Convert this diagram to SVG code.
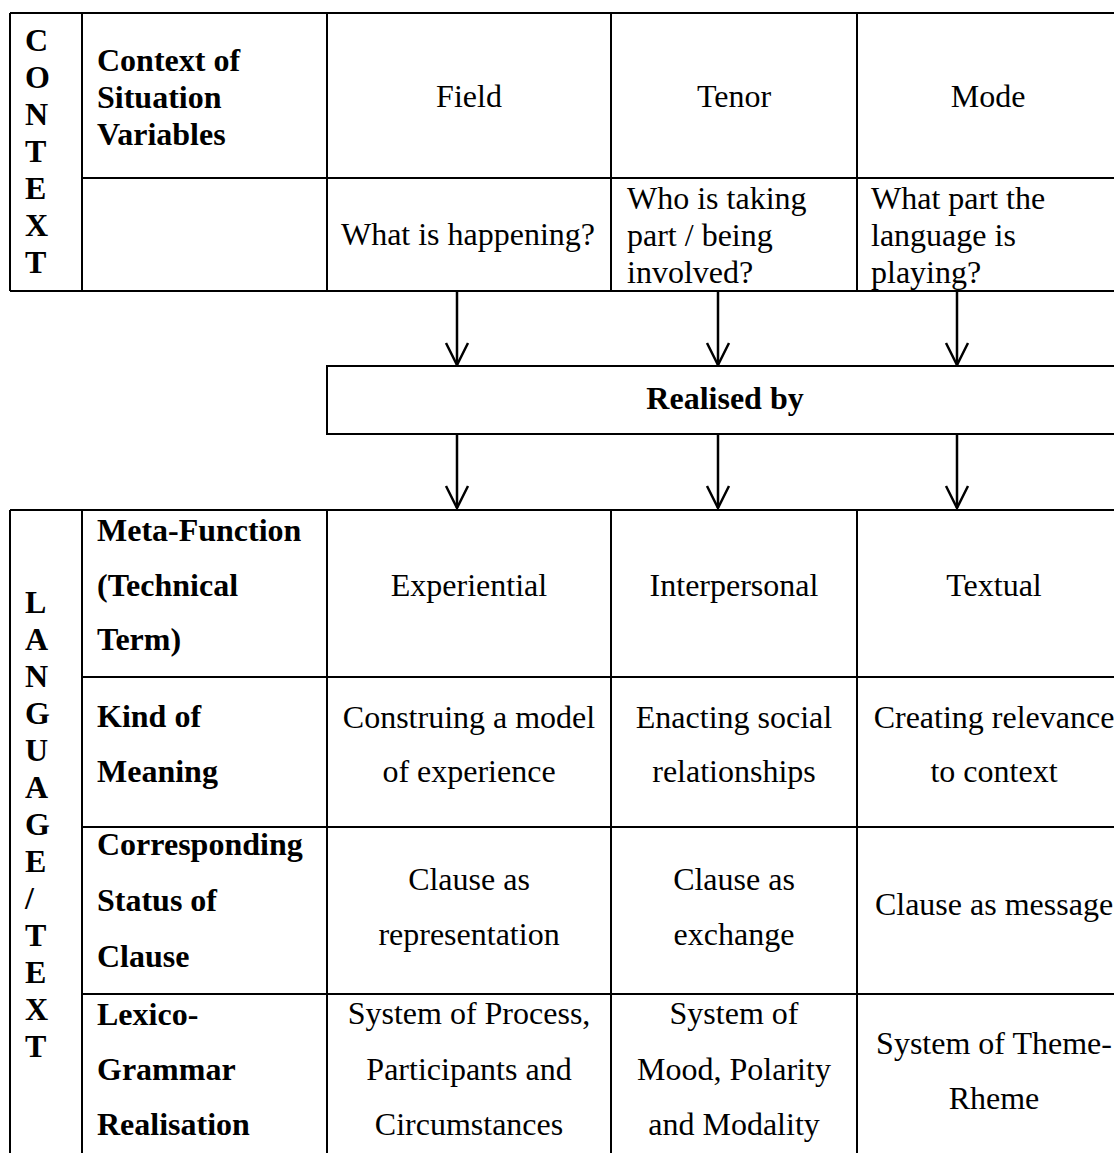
<svg xmlns="http://www.w3.org/2000/svg" width="1114" height="1153" viewBox="0 0 1114 1153">
  <defs>
    <style>
      text { font-family: "Liberation Serif", "Times New Roman", serif; font-size: 32px; fill: #000; }
      .b { font-weight: bold; }
      .c { text-anchor: middle; }
      .ln { stroke: #000; stroke-width: 2; fill: none; }
      .arrow { stroke: #000; stroke-width: 2.5; fill: none; marker-end: url(#vhead); }
    </style>
    <marker id="vhead" viewBox="-24 -13 26 26" refX="0" refY="0" markerWidth="26" markerHeight="26" orient="auto" markerUnits="userSpaceOnUse">
      <path d="M-22,-11 L0,0 L-22,11" fill="none" stroke="#000" stroke-width="2.5"/>
    </marker>
  </defs>
  <rect width="1114" height="1153" fill="#fff"/>

  <!-- Context table -->
  <g id="context-table">
    <path class="ln" d="M10,13 H1114 M10,291 H1114 M82,178 H1114 M10,13 V291 M82,13 V291 M327,13 V291 M611,13 V291 M857,13 V291"/>
    <text class="b" x="25" y="51">C</text>
    <text class="b" x="25" y="88">O</text>
    <text class="b" x="25" y="125">N</text>
    <text class="b" x="25" y="162">T</text>
    <text class="b" x="25" y="199">E</text>
    <text class="b" x="25" y="236">X</text>
    <text class="b" x="25" y="273">T</text>
  </g>
  <g id="csv-label">
    <text class="b" x="97" y="71">Context of</text>
    <text class="b" x="97" y="108">Situation</text>
    <text class="b" x="97" y="145">Variables</text>
  </g>
  <g id="field"><text class="c" x="469" y="107">Field</text></g>
  <g id="tenor"><text class="c" x="734" y="107">Tenor</text></g>
  <g id="mode"><text class="c" x="988" y="107">Mode</text></g>
  <g id="field-q"><text class="c" x="468" y="245">What is happening?</text></g>
  <g id="tenor-q">
    <text x="627" y="209">Who is taking</text>
    <text x="627" y="246">part / being</text>
    <text x="627" y="283">involved?</text>
  </g>
  <g id="mode-q">
    <text x="871" y="209">What part the</text>
    <text x="871" y="246">language is</text>
    <text x="871" y="283">playing?</text>
  </g>

  <!-- Realised by -->
  <g id="realised-by">
    <rect class="ln" x="327" y="366" width="820" height="68"/>
    <text class="b c" x="725" y="409">Realised by</text>
  </g>

  <!-- Connectors -->
  <g id="connectors">
    <line class="arrow" x1="457" y1="291" x2="457" y2="365"/>
    <line class="arrow" x1="718" y1="291" x2="718" y2="365"/>
    <line class="arrow" x1="957" y1="291" x2="957" y2="365"/>
    <line class="arrow" x1="457" y1="434" x2="457" y2="508"/>
    <line class="arrow" x1="718" y1="434" x2="718" y2="508"/>
    <line class="arrow" x1="957" y1="434" x2="957" y2="508"/>
  </g>

  <!-- Language table -->
  <g id="language-table">
    <path class="ln" d="M10,510 H1114 M82,677 H1114 M82,827 H1114 M82,994 H1114 M10,510 V1153 M82,510 V1153 M327,510 V1153 M611,510 V1153 M857,510 V1153"/>
    <text class="b" x="25" y="613">L</text>
    <text class="b" x="25" y="650">A</text>
    <text class="b" x="25" y="687">N</text>
    <text class="b" x="25" y="724">G</text>
    <text class="b" x="25" y="761">U</text>
    <text class="b" x="25" y="798">A</text>
    <text class="b" x="25" y="835">G</text>
    <text class="b" x="25" y="872">E</text>
    <text class="b" x="25" y="909">/</text>
    <text class="b" x="25" y="946">T</text>
    <text class="b" x="25" y="983">E</text>
    <text class="b" x="25" y="1020">X</text>
    <text class="b" x="25" y="1057">T</text>
  </g>

  <g id="row-metafunction">
    <text class="b" x="97" y="541">Meta-Function</text>
    <text class="b" x="97" y="596">(Technical</text>
    <text class="b" x="97" y="650">Term)</text>
    <text class="c" x="469" y="596">Experiential</text>
    <text class="c" x="734" y="596">Interpersonal</text>
    <text class="c" x="994" y="596">Textual</text>
  </g>
  <g id="row-meaning">
    <text class="b" x="97" y="727">Kind of</text>
    <text class="b" x="97" y="782">Meaning</text>
    <text class="c" x="469" y="728">Construing a model</text>
    <text class="c" x="469" y="782">of experience</text>
    <text class="c" x="734" y="728">Enacting social</text>
    <text class="c" x="734" y="782">relationships</text>
    <text class="c" x="994" y="728">Creating relevance</text>
    <text class="c" x="994" y="782">to context</text>
  </g>
  <g id="row-status">
    <text class="b" x="97" y="855">Corresponding</text>
    <text class="b" x="97" y="911">Status of</text>
    <text class="b" x="97" y="967">Clause</text>
    <text class="c" x="469" y="890">Clause as</text>
    <text class="c" x="469" y="945">representation</text>
    <text class="c" x="734" y="890">Clause as</text>
    <text class="c" x="734" y="945">exchange</text>
    <text class="c" x="994" y="915">Clause as message</text>
  </g>
  <g id="row-lexicogrammar">
    <text class="b" x="97" y="1025">Lexico-</text>
    <text class="b" x="97" y="1080">Grammar</text>
    <text class="b" x="97" y="1135">Realisation</text>
    <text class="c" x="469" y="1024">System of Process,</text>
    <text class="c" x="469" y="1080">Participants and</text>
    <text class="c" x="469" y="1135">Circumstances</text>
    <text class="c" x="734" y="1024">System of</text>
    <text class="c" x="734" y="1080">Mood, Polarity</text>
    <text class="c" x="734" y="1135">and Modality</text>
    <text class="c" x="994" y="1054">System of Theme-</text>
    <text class="c" x="994" y="1109">Rheme</text>
  </g>
</svg>
